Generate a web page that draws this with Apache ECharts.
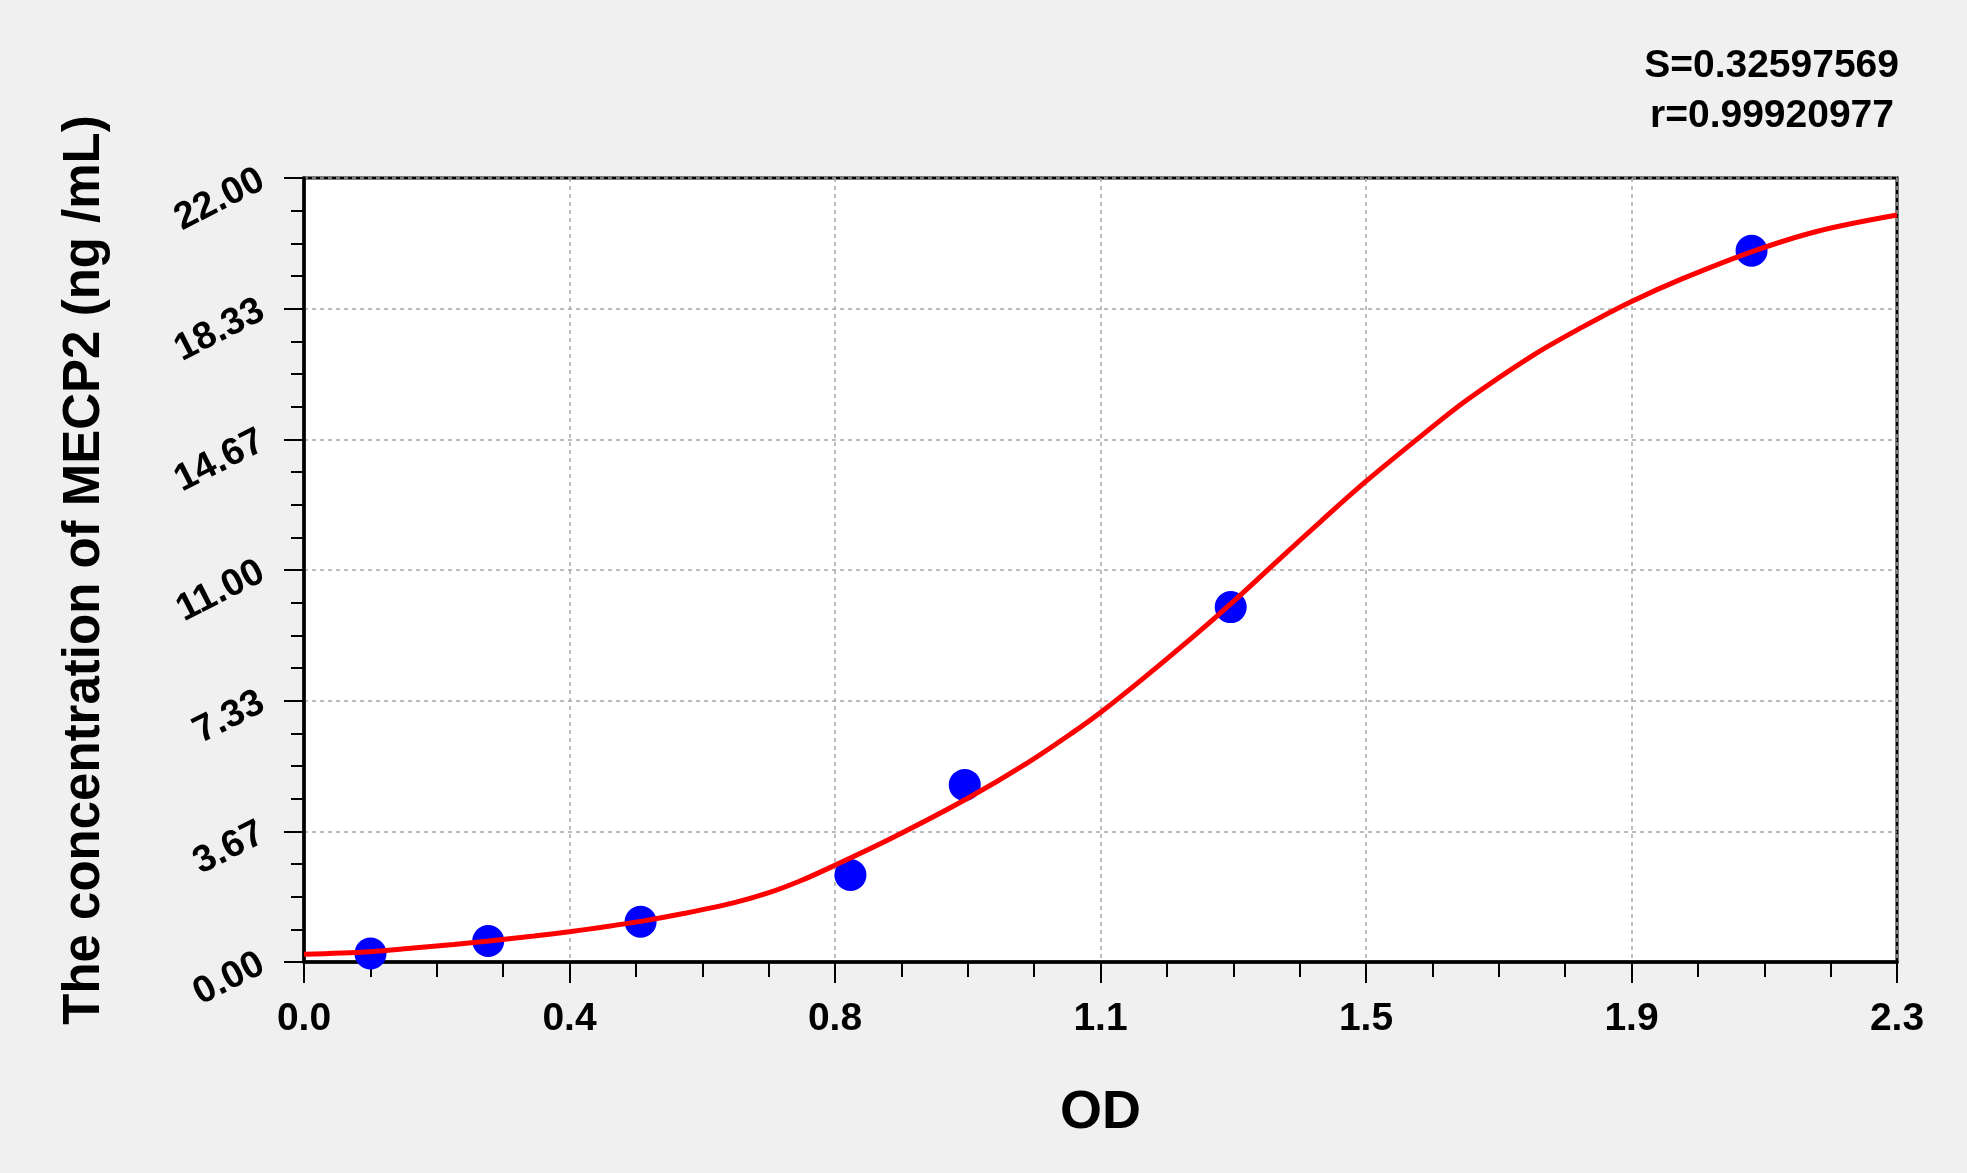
<!DOCTYPE html>
<html>
<head>
    <meta charset="UTF-8">
    <title>MECP2 standard curve</title>
    <style>
        html, body { margin: 0; padding: 0; background: #f0f0f0; }
        #chart { width: 1967px; height: 1173px; }
    </style>
</head>
<body>
<div id="chart"></div>
<script src="https://cdn.jsdelivr.net/npm/echarts@6/dist/echarts.min.js"></script>
<script>
    // standard points (OD, concentration)
    var odValues = [0.096, 0.266, 0.486, 0.789, 0.954, 1.338, 2.090];
    var concValues = [0.24, 0.59, 1.13, 2.44, 4.97, 9.96, 19.96];

    // fitted curve
    var curveOD = [0.000, 0.096, 0.158, 0.216, 0.267, 0.332, 0.383, 0.428, 0.486, 0.548,
        0.620, 0.669, 0.717, 0.765, 0.851, 0.957, 1.044, 1.116, 1.150, 1.207,
        1.281, 1.338, 1.408, 1.469, 1.531, 1.618, 1.679, 1.775, 1.847, 1.916,
        1.992, 2.090, 2.184, 2.300];
    var curveConc = [0.22, 0.29, 0.39, 0.49, 0.59, 0.73, 0.85, 0.97, 1.14, 1.36,
        1.66, 1.93, 2.28, 2.70, 3.50, 4.58, 5.58, 6.52, 7.00, 7.88,
        9.08, 10.05, 11.30, 12.38, 13.45, 14.84, 15.77, 17.03, 17.83, 18.53,
        19.19, 19.93, 20.50, 20.96];

    var xTickLabels = ['0.0', '0.4', '0.8', '1.1', '1.5', '1.9', '2.3'];
    var yTickLabels = ['0.00', '3.67', '7.33', '11.00', '14.67', '18.33', '22.00'];
    var xMax = 2.3, yMax = 22;
    var xStep = xMax / 6, yStep = yMax / 6;

    var fontFam = '"Liberation Sans", Arial, sans-serif';

    function zip(a, b) {
        var out = [];
        for (var i = 0; i < a.length; i++) out.push([a[i], b[i]]);
        return out;
    }

    var chartDom = document.getElementById('chart');
    var myChart = echarts.init(chartDom);

    var option = {
        backgroundColor: '#f0f0f0',
        animation: false,
        graphic: [{
            type: 'text',
            right: 68,
            top: 47,
            style: {
                text: 'S=0.32597569',
                font: 'bold 39px ' + fontFam,
                fill: '#000'
            }
        }, {
            type: 'text',
            right: 73,
            top: 97,
            style: {
                text: 'r=0.99920977',
                font: 'bold 39px ' + fontFam,
                fill: '#000'
            }
        }],
        grid: {
            left: 304,
            right: 70,
            top: 178,
            bottom: 211,
            show: true,
            backgroundColor: '#ffffff',
            borderColor: '#000',
            borderWidth: 3
        },
        xAxis: {
            type: 'value',
            min: 0,
            max: xMax,
            interval: xStep,
            name: 'OD',
            nameLocation: 'middle',
            nameGap: 124,
            nameTextStyle: {
                fontFamily: fontFam,
                fontWeight: 'bold',
                fontSize: 54,
                color: '#000'
            },
            axisLine: { lineStyle: { color: '#000', width: 3.5 } },
            axisTick: { length: 21, lineStyle: { color: '#000', width: 2 } },
            minorTick: { show: true, splitNumber: 4, length: 15, lineStyle: { color: '#000', width: 2 } },
            axisLabel: {
                margin: 38,
                fontFamily: fontFam,
                fontWeight: 'bold',
                fontSize: 39,
                color: '#000',
                formatter: function (v) {
                    return xTickLabels[Math.round(v / xStep)];
                }
            },
            splitLine: { show: true, lineStyle: { color: '#a8a8a8', width: 1.5, type: [4, 4] } }
        },
        yAxis: {
            type: 'value',
            min: 0,
            max: yMax,
            interval: yStep,
            name: 'The concentration of MECP2 (ng /mL)',
            nameLocation: 'middle',
            nameGap: 194,
            nameTextStyle: {
                fontFamily: fontFam,
                fontWeight: 'bold',
                fontSize: 51,
                color: '#000'
            },
            axisLine: { lineStyle: { color: '#000', width: 3.5 } },
            axisTick: { length: 20, lineStyle: { color: '#000', width: 2 } },
            minorTick: { show: true, splitNumber: 4, length: 13, lineStyle: { color: '#000', width: 2 } },
            axisLabel: {
                margin: 42,
                rotate: 27,
                fontFamily: fontFam,
                fontWeight: 'bold',
                fontSize: 38,
                color: '#000',
                formatter: function (v) {
                    return yTickLabels[Math.round(v / yStep)];
                }
            },
            splitLine: { show: true, lineStyle: { color: '#a8a8a8', width: 1.5, type: [4, 4] } }
        },
        series: [{
            type: 'scatter',
            data: zip(odValues, concValues),
            symbolSize: 32,
            itemStyle: { color: '#0000ff', opacity: 1 },
            z: 2
        }, {
            type: 'line',
            data: zip(curveOD, curveConc),
            smooth: 0.35,
            showSymbol: false,
            lineStyle: { color: '#ff0000', width: 5 },
            z: 3
        }]
    };

    myChart.setOption(option);
    window.onresize = function () { myChart.resize(); };
</script>
</body>
</html>
